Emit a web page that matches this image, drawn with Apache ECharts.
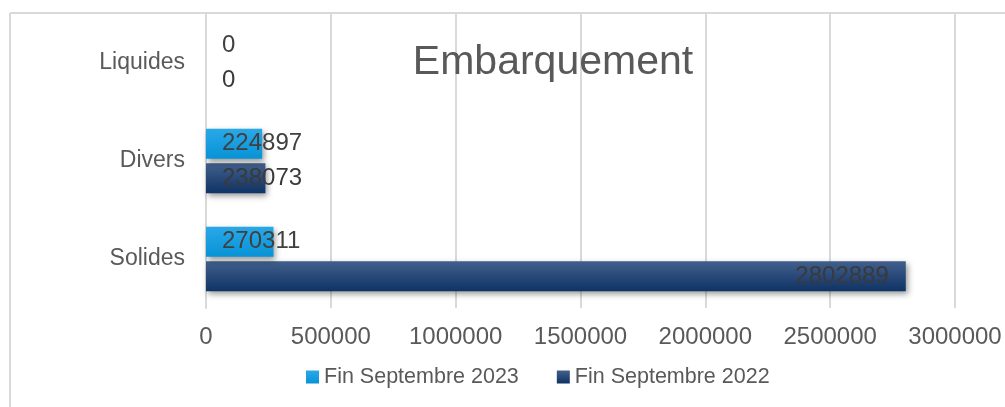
<!DOCTYPE html>
<html>
<head>
<meta charset="utf-8">
<script src="https://cdn.jsdelivr.net/npm/echarts@6/dist/echarts.min.js"></script>
<style>
  html, body { margin: 0; padding: 0; background: #fff; }
  #main { width: 1005px; height: 407px; }
</style>
</head>
<body>
<div id="main"></div>
<script>
// données
var categories = ["Solides", "Divers", "Liquides"];
var seriesNames = ["Fin Septembre 2023", "Fin Septembre 2022"];
var values2023 = [270311, 224897, 0];
var values2022 = [2802889, 238073, 0];
var xTicks = [0, 500000, 1000000, 1500000, 2000000, 2500000, 3000000];

var FONT = "'Liberation Sans', Arial, sans-serif";

function grad(top, bottom) {
  return new echarts.graphic.LinearGradient(0, 0, 0, 1, [
    { offset: 0, color: top },
    { offset: 1, color: bottom }
  ]);
}

// étiquette près de la base si la barre est courte, sinon à l'extrémité
function withLabels(values) {
  return values.map(function (v) {
    if (v > 1000000) {
      return { value: v, label: { position: "insideRight", distance: 17 } };
    }
    return { value: v, label: { position: "insideLeft", distance: 16 } };
  });
}

var barShadow = {
  shadowColor: "rgba(0,0,0,0.4)",
  shadowBlur: 6,
  shadowOffsetX: 2,
  shadowOffsetY: 3
};

var myChart = echarts.init(document.getElementById("main"));
myChart.setOption({
  animation: false,
  title: {
    text: "Embarquement",
    left: 548,
    textAlign: "center",
    top: 37,
    textStyle: { fontFamily: FONT, fontSize: 41, fontWeight: "normal", color: "#595959" }
  },
  legend: {
    data: seriesNames,
    left: 306,
    top: 366,
    padding: 0,
    itemWidth: 13,
    itemHeight: 13,
    itemGap: 38,
    icon: "rect",
    textStyle: { fontFamily: FONT, fontSize: 21.5, color: "#595959" }
  },
  grid: { left: 206, right: 50, top: 14, bottom: 99, outerBoundsMode: "none" },
  xAxis: {
    type: "value",
    min: xTicks[0],
    max: xTicks[xTicks.length - 1],
    interval: 500000,
    axisLine: { show: false },
    axisTick: { show: false },
    splitLine: { lineStyle: { color: "#d9d9d9", width: 2 } },
    axisLabel: {
      margin: 17,
      fontFamily: FONT,
      fontSize: 24,
      color: "#595959",
      formatter: function (v) { return String(v); }
    }
  },
  yAxis: {
    type: "category",
    data: categories,
    axisLine: { show: true, lineStyle: { color: "#d9d9d9", width: 2 } },
    axisTick: { show: false },
    axisLabel: { margin: 21, fontFamily: FONT, fontSize: 23, color: "#595959" }
  },
  series: [
    {
      name: seriesNames[0],
      type: "bar",
      barCategoryGap: "34%",
      barGap: "15%",
      data: withLabels(values2023),
      itemStyle: Object.assign({ color: grad("#2aa8e8", "#0793d6") }, barShadow),
      label: { show: true, fontFamily: FONT, fontSize: 24, color: "#404040" },
      z: 3
    },
    {
      name: seriesNames[1],
      type: "bar",
      barCategoryGap: "34%",
      barGap: "15%",
      data: withLabels(values2022),
      itemStyle: Object.assign({ color: grad("#415f8c", "#0f3365") }, barShadow),
      label: { show: true, fontFamily: FONT, fontSize: 24, color: "#3a3a3a" },
      z: 2
    }
  ],
  graphic: [
    { type: "line", shape: { x1: 10, y1: 13, x2: 1005, y2: 13 }, style: { stroke: "#d9d9d9", lineWidth: 2 } },
    { type: "line", shape: { x1: 10, y1: 13, x2: 10, y2: 407 }, style: { stroke: "#d9d9d9", lineWidth: 2 } }
  ]
});
</script>
</body>
</html>
